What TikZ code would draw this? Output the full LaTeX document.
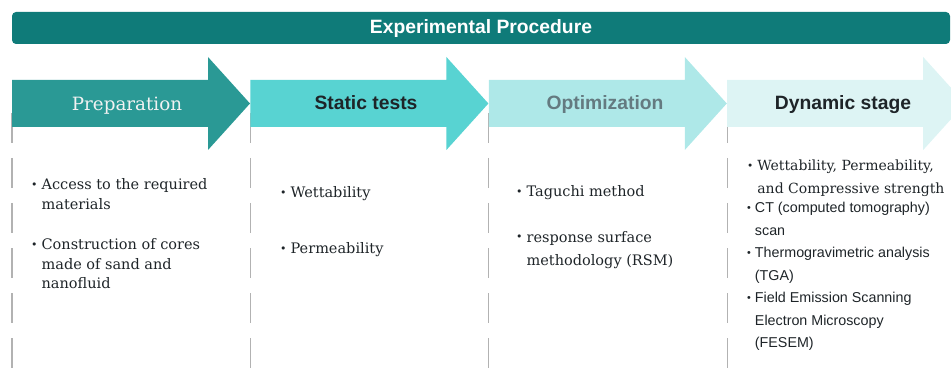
\documentclass[tikz,border=0pt]{standalone}
\usepackage{xcolor}
\usepackage{fontspec}
\setmainfont{DejaVu Serif}
\setsansfont{Liberation Sans}
\usepackage{tikz}

\definecolor{barteal}{RGB}{15,123,121}
\definecolor{prepcol}{RGB}{42,153,149}
\definecolor{staticcol}{RGB}{88,211,210}
\definecolor{optcol}{RGB}{174,232,232}
\definecolor{dyncol}{RGB}{221,244,244}
\definecolor{optgray}{RGB}{100,122,128}
\definecolor{textdark}{RGB}{30,36,40}

% one bullet item, continuation lines hang under the text
\newcommand{\bitem}[1]{\begin{tabular}[t]{@{}l@{\hspace{4pt}}l@{}}\raisebox{1.5pt}{\scalebox{0.75}{\textbullet}} & \begin{tabular}[t]{@{}l@{}}#1\end{tabular}\end{tabular}}

% stage arrow: left edge x, fill colour
\newcommand{\stagearrow}[2]{%
  \fill[#2] (#1,80) -- ++(196,0) -- ++(0,-23) -- ++(42,46.5) -- ++(-42,46.5) -- ++(0,-23) -- ++(-196,0) -- cycle;}

\begin{document}
\begin{tikzpicture}[x=1pt, y=-1pt,
    heading/.style={font=\sffamily\bfseries\fontsize{19.3}{22}\selectfont, anchor=base, inner sep=0pt},
    body/.style={font=\fontsize{14.5}{19.5}\selectfont, text=textdark, anchor=north west, inner sep=0pt},
    dynbody/.style={body, font=\sffamily\fontsize{14.3}{22.4}\selectfont},
    guide/.style={gray!60, line width=1.3pt, dash pattern=on 30pt off 15pt}]
    \useasboundingbox (0,0) rectangle (951,377);
    \clip (0,0) rectangle (951,377);

    % Title bar
    \node[fill=barteal, rounded corners=4pt, minimum width=938pt, minimum height=32pt, inner sep=0pt] (bar) at (481,28) {};
    \node[heading, text=white] (title) at (481,34) {Experimental Procedure};

    % Column guides
    \foreach \gx in {12,250.4,488.8,727.2}
        \draw[guide] (\gx,113) -- (\gx,370);

    % Stage arrows
    \stagearrow{727.2}{dyncol}
    \stagearrow{488.8}{optcol}
    \stagearrow{250.4}{staticcol}
    \stagearrow{12}{prepcol}

    % Headings
    \node[font=\fontsize{18.3}{22}\selectfont, anchor=base, inner sep=0pt, text=white!95!black] (prep) at (127,111) {Preparation};
    \node[heading, text=textdark] (static) at (366,110) {Static tests};
    \node[heading, text=optgray] (optim) at (605,110) {Optimization};
    \node[heading, text=textdark] (dyn) at (843,110) {Dynamic stage};

    % Preparation
    \node[body] (prepA) at (31,176) {\bitem{Access to the required\\materials}};
    \node[body] (prepB) at (31,236) {\bitem{Construction of cores\\made of sand and\\nanofluid}};

    % Static tests
    \node[body] (statA) at (280,184) {\bitem{Wettability}};
    \node[body] (statB) at (280,240) {\bitem{Permeability}};

    % Optimization
    \node[body] (optA) at (516,183) {\bitem{Taguchi method}};
    \node[body, font=\fontsize{14.5}{23}\selectfont] (optB) at (516,226) {\bitem{response surface\\methodology (RSM)}};

    % Dynamic stage
    \node[body, font=\fontsize{14}{22.4}\selectfont] (dynA) at (747,155) {\bitem{Wettability, Permeability,\\and Compressive strength}};
    \node[dynbody] (dynB) at (747,197) {\bitem{CT (computed tomography)\\scan}};
    \node[dynbody] (dynC) at (747,242) {\bitem{Thermogravimetric analysis\\(TGA)}};
    \node[dynbody] (dynD) at (747,287) {\bitem{Field Emission Scanning\\Electron Microscopy\\(FESEM)}};
\end{tikzpicture}
\end{document}
